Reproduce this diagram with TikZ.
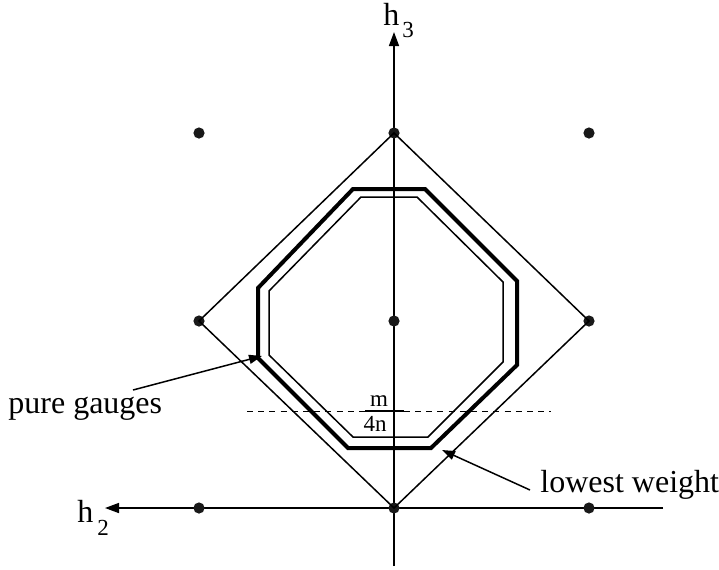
\documentclass[tikz,border=0pt]{standalone}
\usepackage{fontspec}
\setmainfont{Liberation Serif}
\usetikzlibrary{arrows.meta}
\begin{document}
\begin{tikzpicture}[x=0.5pt,y=-0.5pt,
  thinline/.style={line width=0.75pt},
  thickline/.style={line width=2pt,line join=miter},
  latticedot/.style={circle,fill=black!90,inner sep=0pt,minimum size=5.6pt},
  axisarrow/.style={line width=0.75pt,-{Triangle[length=7pt,width=5pt]}},
  leader/.style={line width=0.75pt,-{Triangle[length=6.5pt,width=4.5pt]}},
  maintext/.style={inner sep=0pt,anchor=base west,font=\fontsize{16}{18}\selectfont},
  subtext/.style={inner sep=0pt,anchor=base west,font=\fontsize{11.5}{13}\selectfont},
  fractext/.style={inner sep=0pt,anchor=base,font=\fontsize{11.5}{13}\selectfont}]
\useasboundingbox (0,0) rectangle (719,569);
% axes
\coordinate (vbot) at (394,566);
\coordinate (vtop) at (394,32);
\coordinate (hright) at (663,508);
\coordinate (hleft) at (105,508);
\draw[axisarrow] (vbot) -- (vtop);
\draw[axisarrow] (hright) -- (hleft);
% lattice dots
\node[latticedot] (d11) at (199,133) {};
\node[latticedot] (d12) at (394,133) {};
\node[latticedot] (d13) at (589,133) {};
\node[latticedot] (d21) at (199,321) {};
\node[latticedot] (d22) at (394,321) {};
\node[latticedot] (d23) at (589,321) {};
\node[latticedot] (d31) at (199,508) {};
\node[latticedot] (d32) at (394,508) {};
\node[latticedot] (d33) at (589,508) {};
% diamond
\draw[thinline,line join=miter] (d12.center) -- (d23.center) -- (d32.center) -- (d21.center) -- cycle;
% thick octagon
\draw[thickline] (353,189) -- (425,189) -- (517,281) -- (517,365) -- (431,448) -- (348,448) -- (258,358) -- (258,288) -- cycle;
% inner octagon
\draw[thinline,line join=miter] (361,197) -- (417,197) -- (503,282) -- (503,362) -- (428,437) -- (353,437) -- (269,355) -- (269,291) -- cycle;
% dashed line
\coordinate (dl) at (247,411);
\coordinate (dr) at (551,411);
\draw[line width=0.5pt,dash pattern=on 3pt off 2.6pt] (dl) -- (dr);
% fraction
\node[fractext] (fm) at (379,406) {m};
\node[fractext] (fn) at (375,431) {4n};
\coordinate (barl) at (365,411);
\coordinate (barr) at (404,411);
\draw[line width=0.6pt] (barl) -- (barr);
% axis labels
\node[maintext] (h3) at (383,25) {h};
\node[subtext] (s3) at (402,37) {3};
\node[maintext] (h2) at (77,522) {h};
\node[subtext] (s2) at (97,535) {2};
% annotations
\node[maintext] (pg) at (8,413) {pure gauges};
\node[maintext] (lw) at (540,492) {lowest weight};
\coordinate (pgstart) at (133,390);
\coordinate (pgend) at (262,356);
\draw[leader] (pgstart) -- (pgend);
\coordinate (lwstart) at (530,490);
\coordinate (lwend) at (442,450);
\draw[leader] (lwstart) -- (lwend);
\end{tikzpicture}
\end{document}
